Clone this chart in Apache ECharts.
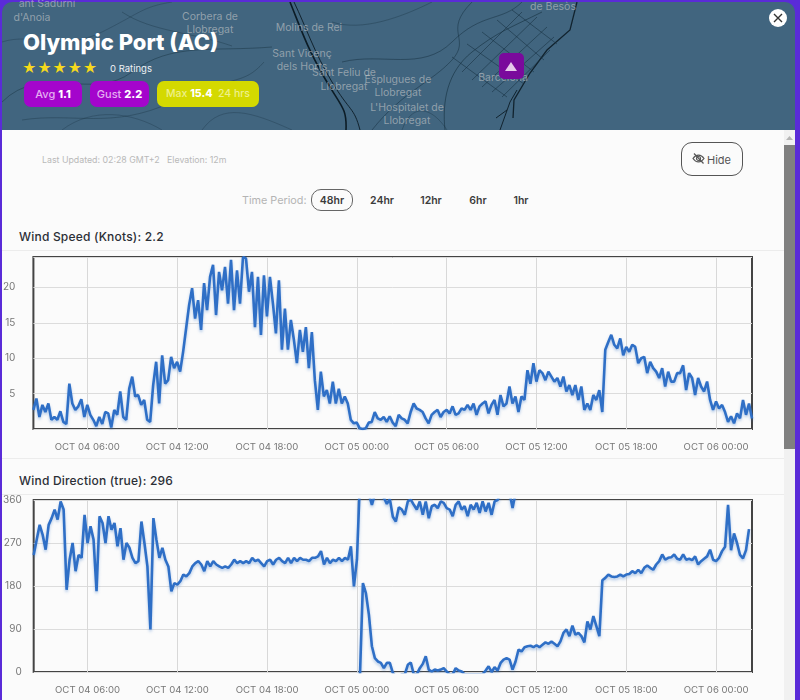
<!DOCTYPE html>
<html lang="en">
<head>
<meta charset="UTF-8">
<title>Olympic Port (AC)</title>
<script src="https://cdn.jsdelivr.net/npm/echarts@6/dist/echarts.min.js"></script>
<style>
	html, body { margin:0; padding:0; width:800px; height:700px; overflow:hidden; background:#5a2bd8; font-family:Inter, "Noto Sans", sans-serif; }
	.abs { position:absolute; white-space:nowrap; }
	#map { position:absolute; left:2px; top:2px; width:793px; height:128px; background:#41657f; border-radius:10px 10px 0 0; overflow:hidden; }
	#panel { position:absolute; left:2px; top:130px; width:782px; height:570px; background:#fbfbfb; }
	#chart { position:absolute; left:0; top:0; width:800px; height:700px; }
	.place { position:absolute; transform:translateX(-50%); color:rgba(205,205,205,.58); font-size:10.5px; line-height:13px; text-align:center; white-space:nowrap; }
	.pill { position:absolute; top:81px; height:26px; line-height:26px; border-radius:7px; text-align:center; font-size:11px; font-weight:500; }
	.pill b { color:#fff; font-weight:800; }
	.period { position:absolute; top:194px; font-size:10.5px; font-weight:600; color:#3c3c3c; transform:translateX(-50%); }
	.head { position:absolute; left:19px; font-size:12px; font-weight:500; color:#2b2f36; letter-spacing:.2px; }
	.rule { position:absolute; left:2px; width:782px; height:1px; background:#ececec; }
</style>
</head>
<body>
<div id="map">
	<svg width="793" height="128" style="position:absolute;left:0;top:0" fill="none" stroke="#16303f" stroke-width="1" stroke-opacity=".7">
		<!-- terrain and rivers, decoration only -->
		<path d="M0 100 C40 60 90 100 130 70 S210 50 270 45" stroke-opacity=".45"/>
		<path d="M20 118 C70 110 110 128 170 100 S240 85 262 60" stroke-opacity=".35"/>
		<path d="M120 10 C150 30 190 30 230 44" stroke-opacity=".35"/>
		<path d="M0 40 C30 30 60 50 100 30 S140 5 170 0" stroke-opacity=".3"/>
		<path d="M60 128 C90 105 130 110 160 128 M200 128 C220 100 250 110 290 128" stroke-opacity=".3"/>
		<path d="M288 0 C300 30 305 45 322 75 S345 105 344 128" stroke="#0c1c26" stroke-width="1.6" stroke-opacity="1"/>
		<path d="M292 0 C304 25 312 50 330 80 S352 105 358 128" stroke="#0c1c26" stroke-opacity=".9"/>
		<path d="M340 60 C380 50 420 70 450 40 S500 20 520 0" stroke-opacity=".5"/>
		<path d="M370 128 C400 90 430 80 450 58 S440 30 470 0" stroke-opacity=".5"/>
		<path d="M330 20 C360 30 400 15 430 0 M400 128 C410 100 430 105 445 128" stroke-opacity=".35"/>
		<path d="M443 128 C440 100 445 70 470 50 S510 25 540 10" stroke-opacity=".6"/>
		<path d="M575 0 L568 28 L545 48 L528 71 L512 98 L511 116" stroke="#0c1c26" stroke-width="1.3" stroke-opacity=".9"/>
		<path d="M460 70 L520 10 M470 78 L535 15 M480 85 L545 25 M490 90 L552 35 M500 95 L548 48 M450 55 L505 95 M465 42 L522 82 M480 30 L532 70 M495 18 L542 58 M510 8 L555 42" stroke-opacity=".55"/>
		<path d="M498 128 L508 100 L515 88 M494 116 L505 108" stroke="#0c1c26" stroke-opacity=".9"/>
	</svg>
</div>
<div class="place" style="left:47px;top:-3px">ant Sadurní</div>
<div class="place" style="left:32px;top:11px">d'Anoia</div>
<div class="place" style="left:210px;top:10px">Corbera de</div>
<div class="place" style="left:210px;top:23px">Llobregat</div>
<div class="place" style="left:309px;top:21px">Molins de Rei</div>
<div class="place" style="left:302px;top:47px">Sant Vicenç</div>
<div class="place" style="left:302px;top:60px">dels Horts</div>
<div class="place" style="left:344px;top:66px">Sant Feliu de</div>
<div class="place" style="left:344px;top:80px">Llobregat</div>
<div class="place" style="left:398px;top:73px">Esplugues de</div>
<div class="place" style="left:398px;top:86px">Llobregat</div>
<div class="place" style="left:407px;top:101px">L'Hospitalet de</div>
<div class="place" style="left:407px;top:114px">Llobregat</div>
<div class="place" style="left:503px;top:71px">Barcelona</div>
<div class="place" style="left:553px;top:0px">de Besòs</div>

<div class="abs" style="left:499px;top:53px;width:25px;height:26px;background:#7a0a9c;border-radius:5px"></div>
<svg class="abs" style="left:499px;top:53px" width="25" height="26"><path d="M12 9 L18 18 L6 18 Z" fill="#e6c9ea"/></svg>

<div class="abs" style="left:23px;top:29px;font-size:22px;font-weight:800;color:#fff;line-height:27px">Olympic Port (AC)</div>
<div class="abs" style="left:22px;top:59px;font-size:14px;letter-spacing:.55px;color:#f6d91c;line-height:18px">★★★★★</div>
<div class="abs" style="left:110px;top:63px;font-size:9.5px;color:#eef1f4;line-height:12px">0 Ratings</div>
<div class="pill" style="left:24px;width:58px;background:#a405cc;color:#e4aef2">Avg <b>1.1</b></div>
<div class="pill" style="left:90px;width:59px;background:#a405cc;color:#e4aef2">Gust <b>2.2</b></div>
<div class="pill" style="left:157px;width:102px;background:#d4d900;color:#eef08a;font-size:10.5px">Max <b>15.4</b>&nbsp; 24 hrs</div>
<svg class="abs" style="left:769px;top:9px" width="18" height="18"><circle cx="9" cy="9" r="9" fill="#fff"/><path d="M5 5 L13 13 M13 5 L5 13" stroke="#333" stroke-width="1.4"/></svg>

<div id="panel"></div>
<div class="abs" style="left:42px;top:154px;font-size:8.8px;color:#b9b9b9;line-height:12px">Last Updated: 02:28 GMT+2 &nbsp; Elevation: 12m</div>
<div class="abs" style="left:681px;top:142px;width:60px;height:32px;border:1px solid #555;border-radius:11px;background:#fbfbfb"></div>
<svg class="abs" style="left:692px;top:152px" width="13" height="13" fill="none" stroke="#555" stroke-width="1.2"><path d="M1 6.5 C4 2 9 2 12 6.5 C9 11 4 11 1 6.5 Z"/><circle cx="6.5" cy="6.5" r="2"/><path d="M2 1.5 L11.5 11.5"/></svg>
<div class="abs" style="left:707px;top:153px;font-size:11px;color:#555;line-height:14px">Hide</div>

<div class="abs" style="left:242px;top:194px;font-size:10.8px;color:#b4b4b4;line-height:14px">Time Period:</div>
<div class="abs" style="left:311px;top:189px;width:40px;height:20px;border:1px solid #666;border-radius:10px"></div>
<div class="period" style="left:332px">48hr</div>
<div class="period" style="left:382px">24hr</div>
<div class="period" style="left:431px">12hr</div>
<div class="period" style="left:478px">6hr</div>
<div class="period" style="left:521px">1hr</div>

<div class="head" style="top:229px">Wind Speed (Knots): 2.2</div>
<div class="rule" style="top:250px"></div>
<div class="rule" style="top:458px"></div>
<div class="head" style="top:473px">Wind Direction (true): 296</div>
<div class="rule" style="top:494px"></div>

<div class="abs" style="left:784px;top:130px;width:11px;height:570px;background:#f1f1f1"></div>
<div class="abs" style="left:784px;top:145px;width:11px;height:304px;background:#808080"></div>
<svg class="abs" style="left:784px;top:134px" width="11" height="8"><path d="M5.5 2 L9 6 L2 6 Z" fill="#b5b5b5"/></svg>

<div id="chart"></div>
<script>
	// x ticks every 12 min, 48 hours
	var timeTicks = ['OCT 04 06:00', 'OCT 04 12:00', 'OCT 04 18:00', 'OCT 05 00:00', 'OCT 05 06:00', 'OCT 05 12:00', 'OCT 05 18:00', 'OCT 06 00:00'];

	var windSpeed = [
		2.7,4.3,1.7,3.4,2.4,3.6,1.3,1.7,1.3,2.5,1.0,0.7,6.4,3.6,2.7,3.2,4.2,1.7,3.4,2.0,
		1.3,0.4,1.7,0.7,2.4,2.2,0.2,2.7,2.0,5.3,1.7,1.3,5.7,7.4,4.6,4.8,3.4,4.1,1.3,1.0,
		6.2,9.5,3.6,10.4,6.4,6.9,10.2,8.6,9.5,8.1,10.9,14.2,17.5,19.9,15.6,18.2,14,20.6,16.8,21.5,
		23.2,16.1,22.2,19.6,22.9,17.7,23.9,16.8,22.4,17.7,24.3,24.1,19.4,22.2,14.4,21.5,13.3,21.7,15.9,21.5,
		17.7,13.5,21,11.2,17,11.2,15.4,12.6,9.3,14,10.9,14.4,8.6,13.7,6.9,2.7,8.1,4.6,5.5,3.6,
		6.7,3.6,5.7,3.6,4.6,3.6,1.3,0.8,0.9,0.1,0,0.1,0.9,1,2.4,1.5,1.3,1.7,1,1.8,
		0.9,0.4,2.0,1.5,1.3,0.8,2.4,3.6,2.9,2.7,2.4,1.5,0.8,2,2.4,2.7,1.7,2.4,2.7,2.2,
		3.2,2,2.2,2.9,2.7,3.4,2.7,3.6,2,3.2,3.6,3.9,2.2,3.4,4.1,2,4.8,3.2,3.6,6,
		3.6,4.6,2.4,4.6,4.1,8.3,6.4,9.3,6.7,8.3,7.9,6.9,8.1,7.4,6.7,7.2,6,7.4,5.3,6.2,
		4.8,6.2,4.1,6,2.7,3.6,2.7,4.8,4.1,5.5,2.4,11.2,12.3,13.3,11.9,11.4,12.8,10.4,11.6,10.9,
		11.9,11.6,9.3,10,10.2,7.9,9.5,8.6,8.1,7.2,8.6,6,8.1,6.7,6.7,7.9,7.9,9,5.5,7.9,
		7.2,4.8,7.2,6,5.3,6.7,4.1,2.7,3.9,2.9,3.4,2.4,1,1.8,0.8,2.2,1.5,4.1,2,3.6,1.5
	];

	// direction until the line wraps past north
	var dirBefore = [
		245,277,308,287,256,308,322,340,319,357,340,172,235,270,211,245,239,329,270,305,
		277,169,326,312,270,326,298,312,263,301,235,270,260,239,228,232,315,270,221,89,
		322,277,239,260,235,221,169,186,183,190,204,200,207,221,228,232,225,211,232,221,
		232,225,221,218,221,218,225,235,228,232,228,232,228,239,232,235,228,221,232,235,
		225,235,239,232,228,239,228,239,232,239,235,235,232,239,239,242,253,225,239,228,
		235,232,239,232,239,235,263,179,235,400
	];
	var dirAfterStart = 109;
	var dirAfter = [
		-10,186,165,120,54,29,22,19,8,19,19,-2,-9,-9,
		-5,-5,15,20,-5,-5,8,17,33,5,1,5,3,5,8,1,-5,-5,8,3,1,-5,-5,-5,-5,-5,-5,-5,3,12,0,10,3,19,26,29,26,5,22,
		47,43,52,54,55,52,56,52,57,62,59,64,59,54,64,82,89,75,97,78,82,75,62,106,89,117,96,75,
		192,197,204,200,199,200,204,200,204,205,211,207,214,207,218,223,218,214,225,232,246,235,239,240,246,237,235,246,235,237,234,242,225,232,237,242,256,
		235,232,239,253,262,350,255,290,270,245,238,255,299
	];
	var dirWrapStart = 112;
	var dirWrap = [
		372,350,372,375,370,365,352,362,325,315,345,
		340,329,357,361,350,340,357,329,357,322,347,350,343,357,354,343,340,326,350,357,340,347,326,350,340,354,333,357,336,354,329,357,
		360,375,375,375,375,343,375
	];

	var months = ['OCT 04', 'OCT 05', 'OCT 06'];
	var categories = [];
	for (var i = 0; i <= 240; i++) {
		var mins = 2 * 60 + 24 + i * 12;
		var hh = Math.floor(mins / 60);
		var day = Math.floor(hh / 24);
		var h = hh % 24, m = mins % 60;
		categories.push(months[day] + ' ' + (h < 10 ? '0' : '') + h + ':' + (m < 10 ? '0' : '') + m);
	}

	function padFrom(values, start) {
		var out = [];
		for (var i = 0; i < start; i++) out.push(null);
		return out.concat(values);
	}

	function isTick(index, value) {
		return timeTicks.indexOf(value) >= 0;
	}

	function xAxis(gridIndex) {
		return {
			type: 'category',
			gridIndex: gridIndex,
			data: categories,
			boundaryGap: false,
			axisLine: { show: false },
			axisTick: { show: false },
			axisLabel: { interval: isTick, color: '#777', fontSize: 9.6, fontFamily: 'Inter', margin: 13 },
			splitLine: { show: true, interval: isTick, lineStyle: { color: '#d8d8d8', width: 1 } }
		};
	}

	function windLine(xi, data) {
		return {
			type: 'line',
			xAxisIndex: xi,
			yAxisIndex: xi,
			data: data,
			symbol: 'none',
			clip: true,
			animation: false,
			lineStyle: { color: '#2f6fc6', width: 2.6, shadowColor: 'rgba(47,111,198,.35)', shadowBlur: 3, shadowOffsetY: 2 }
		};
	}

	var gridLine = { show: true, lineStyle: { color: '#dcdcdc', width: 1 } };

	var myChart = echarts.init(document.getElementById('chart'));
	myChart.setOption({
		animation: false,
		grid: [
			{ left: 32, top: 257, width: 720, height: 172, show: true, borderColor: '#444', borderWidth: 2 },
			{ left: 32, top: 500, width: 720, height: 172, show: true, borderColor: '#444', borderWidth: 2 }
		],
		xAxis: [xAxis(0), xAxis(1)],
		yAxis: [
			{
				type: 'value', gridIndex: 0, min: 0, max: 24.3, interval: 5,
				axisLine: { show: false }, axisTick: { show: false }, splitLine: gridLine,
				axisLabel: {
					color: '#777', fontSize: 10, fontFamily: 'Inter', margin: 18,
					formatter: function (v) { return (v > 0 && v % 5 === 0) ? String(v) : ''; }
				}
			},
			{
				type: 'value', gridIndex: 1, min: 0, max: 360, interval: 90,
				axisLine: { show: false }, axisTick: { show: false }, splitLine: gridLine,
				axisLabel: { color: '#777', fontSize: 10, fontFamily: 'Inter', margin: 12 }
			}
		],
		series: [
			windLine(0, windSpeed),
			windLine(1, dirBefore),
			windLine(1, padFrom(dirAfter, dirAfterStart)),
			windLine(1, padFrom(dirWrap, dirWrapStart))
		]
	});
</script>
</body>
</html>
